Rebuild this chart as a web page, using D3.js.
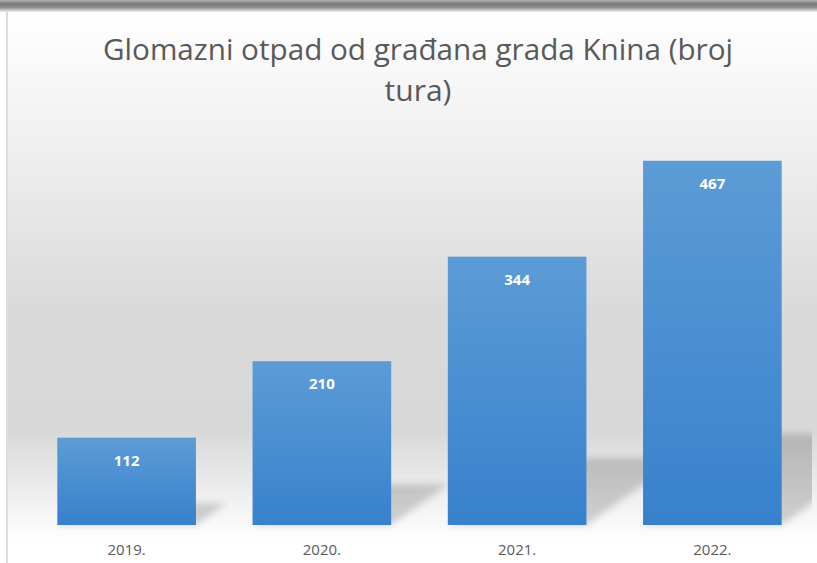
<!DOCTYPE html>
<html>
<head>
<meta charset="utf-8">
<script src="https://cdn.jsdelivr.net/npm/d3@7"></script>
<style>
  body { margin: 0; background: #fff; }
  svg { display: block; }
</style>
</head>
<body>
<svg width="817" height="563"></svg>
<script>
var years = ["2019.", "2020.", "2021.", "2022."];
var tours = [112, 210, 344, 467];
var titleLines = ["Glomazni otpad od građana grada Knina (broj", "tura)"];

var width = 817, height = 563,
    chartLeft = 8, chartTop = 12,
    plotRight = 812, baseY = 525;

var svg = d3.select("svg");
var defs = svg.append("defs");

// chart background, white -> grey -> white
var bg = defs.append("linearGradient").attr("id", "bg")
    .attr("x1", 0).attr("y1", 0).attr("x2", 0).attr("y2", 1);
[[0, "#ffffff"], [0.22, "#f1f1f1"], [0.55, "#d9d9d9"], [0.76, "#d8d8d8"], [0.96, "#ffffff"], [1, "#ffffff"]]
  .forEach(function(s) { bg.append("stop").attr("offset", s[0]).attr("stop-color", s[1]); });

// dark band at the very top (window edge)
var band = defs.append("linearGradient").attr("id", "band")
    .attr("x1", 0).attr("y1", 0).attr("x2", 0).attr("y2", 1);
[[0, "#b5b5b5"], [0.3, "#7a7a7a"], [0.6, "#8a8a8a"], [1, "#eeeeee"]]
  .forEach(function(s) { band.append("stop").attr("offset", s[0]).attr("stop-color", s[1]); });

var barGrad = defs.append("linearGradient").attr("id", "barGrad")
    .attr("x1", 0).attr("y1", 0).attr("x2", 0).attr("y2", 1);
barGrad.append("stop").attr("offset", 0).attr("stop-color", "#5c9cd6");
barGrad.append("stop").attr("offset", 1).attr("stop-color", "#3781cc");

defs.append("filter").attr("id", "blur")
    .attr("x", "-20%").attr("y", "-20%").attr("width", "140%").attr("height", "140%")
  .append("feGaussianBlur").attr("stdDeviation", 3.5);

defs.append("clipPath").attr("id", "plotClip")
  .append("rect").attr("x", chartLeft).attr("y", chartTop)
  .attr("width", plotRight - chartLeft).attr("height", baseY + 10 - chartTop);

svg.append("rect").attr("x", 0).attr("y", 0).attr("width", width).attr("height", 12)
    .attr("fill", "url(#band)");
svg.append("rect").attr("x", chartLeft).attr("y", chartTop)
    .attr("width", width - chartLeft).attr("height", height - chartTop)
    .attr("fill", "url(#bg)");
svg.append("line").attr("x1", 7).attr("x2", 7).attr("y1", chartTop).attr("y2", height)
    .attr("stroke", "#cfcfcf").attr("stroke-width", 1.5);

var x = d3.scaleBand().domain(years).range([29, 810]).paddingInner(0.29).paddingOuter(0.145);
var y = d3.scaleLinear().domain([0, 500]).range([baseY, 135]);

// perspective shadows
svg.append("g").attr("clip-path", "url(#plotClip)")
  .selectAll("path").data(tours).enter().append("path")
    .attr("d", function(d, i) {
      var x0 = x(years[i]), x1 = x0 + x.bandwidth(), h = baseY - y(d);
      var dx = 0.35 * h, dy = 0.25 * h;
      return "M" + x0 + "," + baseY + "L" + x1 + "," + baseY +
             "L" + (x1 + dx) + "," + (baseY - dy) + "L" + (x0 + dx) + "," + (baseY - dy) + "Z";
    })
    .attr("fill", "#000").attr("fill-opacity", 0.17)
    .attr("filter", "url(#blur)");

svg.append("g").selectAll("rect").data(tours).enter().append("rect")
    .attr("x", function(d, i) { return x(years[i]); })
    .attr("y", function(d) { return y(d); })
    .attr("width", x.bandwidth())
    .attr("height", function(d) { return baseY - y(d); })
    .attr("fill", "url(#barGrad)");

svg.append("g").selectAll("text").data(tours).enter().append("text")
    .attr("x", function(d, i) { return x(years[i]) + x.bandwidth() / 2; })
    .attr("y", function(d) { return y(d) + 28; })
    .attr("text-anchor", "middle")
    .attr("font-family", "'Open Sans', sans-serif")
    .attr("font-weight", "bold")
    .attr("font-size", 15)
    .attr("fill", "#ffffff")
    .text(function(d) { return d; });

var xAxis = svg.append("g").attr("transform", "translate(0," + baseY + ")")
    .call(d3.axisBottom(x).tickSize(0).tickPadding(19));
xAxis.select(".domain").remove();
xAxis.selectAll("text")
    .attr("font-family", "'Open Sans', sans-serif")
    .attr("font-size", 15)
    .attr("fill", "#595959");

svg.append("g").selectAll("text").data(titleLines).enter().append("text")
    .attr("x", 418)
    .attr("y", function(d, i) { return 60 + i * 41; })
    .attr("text-anchor", "middle")
    .attr("font-family", "'Open Sans', sans-serif")
    .attr("font-size", 30)
    .attr("fill", "#595959")
    .attr("textLength", function(d, i) { return i === 0 ? 630 : null; })
    .attr("lengthAdjust", "spacingAndGlyphs")
    .text(function(d) { return d; });
</script>
</body>
</html>
